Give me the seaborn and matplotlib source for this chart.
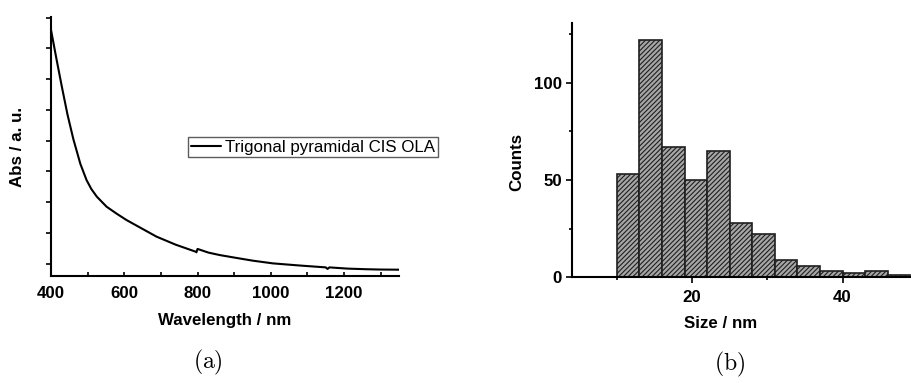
import matplotlib
matplotlib.use("Agg")
import matplotlib.pyplot as plt
from matplotlib.ticker import MultipleLocator, NullFormatter
import numpy as np
import pandas as pd
import seaborn as sns

# UV-vis-NIR absorption spectrum
wavelength = [400, 415, 430, 445, 461, 480, 497, 510, 525, 552, 580, 606, 650,
              688, 740, 795, 797, 800, 830, 861, 900, 950, 1006, 1080, 1150,
              1155, 1160, 1210, 1261, 1300, 1350]
absorbance = [0.860, 0.765, 0.673, 0.585, 0.505, 0.425, 0.372, 0.343, 0.318,
              0.285, 0.262, 0.242, 0.213, 0.188, 0.162, 0.139, 0.137, 0.148,
              0.136, 0.128, 0.120, 0.110, 0.101, 0.094, 0.088, 0.083, 0.088,
              0.084, 0.082, 0.081, 0.0805]
series_name = "Trigonal pyramidal CIS OLA"

# Particle size histogram (3 nm bins)
bin_edges = [10, 13, 16, 19, 22, 25, 28, 31, 34, 37, 40, 43, 46, 49]
counts = [53, 122, 67, 50, 65, 28, 22, 9, 6, 3, 2, 3, 1]

sns.set_theme(style="ticks")
plt.rcParams["font.family"] = ["Liberation Sans", "DejaVu Sans"]
plt.rcParams["mathtext.fontset"] = "cm"
plt.rcParams["hatch.linewidth"] = 0.8
plt.rcParams["hatch.color"] = "#1a1a1a"
for key in ["text.color", "axes.labelcolor", "xtick.color", "ytick.color",
            "axes.edgecolor"]:
    plt.rcParams[key] = "black"

W, H = 911, 383
fig = plt.figure(figsize=(W / 100, H / 100), dpi=100)


def px_axes(left, top, right, bottom):
    return fig.add_axes([left / W, 1 - bottom / H, (right - left) / W, (bottom - top) / H])


FS = 12.2
SPINE = 1.5

# ---------------- (a) absorption spectrum ----------------
ax1 = px_axes(51, 17, 399, 276)
spec = pd.DataFrame({"Wavelength": wavelength, "Abs": absorbance})
sns.lineplot(data=spec, x="Wavelength", y="Abs", ax=ax1, color="black",
             linewidth=1.5, label=series_name, estimator=None)
ax1.set_xlim(400, 1350)
ax1.set_ylim(0.06, 0.902)
ax1.xaxis.set_major_locator(MultipleLocator(200))
ax1.xaxis.set_minor_locator(MultipleLocator(100))
ax1.yaxis.set_major_locator(MultipleLocator(0.2))
ax1.yaxis.set_minor_locator(MultipleLocator(0.1))
ax1.yaxis.set_major_formatter(NullFormatter())
ax1.tick_params(axis="x", which="major", direction="in", length=3, width=1.2,
                pad=7, labelsize=FS)
ax1.tick_params(axis="x", which="minor", direction="in", length=3, width=1.2)
ax1.tick_params(axis="y", which="both", direction="out", length=3.4, width=1.2)
for lab in ax1.get_xticklabels():
    lab.set_fontweight("bold")
ax1.set_xlabel("Wavelength / nm", fontsize=FS, fontweight="bold", labelpad=9)
ax1.set_ylabel("Abs / a. u.", fontsize=FS, fontweight="bold")
ax1.yaxis.set_label_coords(-33.5 / 348, 0.5)
ax1.yaxis.label.set_va("center")
for s in ["top", "right"]:
    ax1.spines[s].set_visible(False)
for s in ["left", "bottom"]:
    ax1.spines[s].set_linewidth(SPINE)

leg = ax1.legend(loc="upper left", bbox_to_anchor=(188 / W, 1 - 137 / H),
                 bbox_transform=fig.transFigure, frameon=True, fancybox=False,
                 borderaxespad=0, borderpad=0.15, handlelength=1.8,
                 handletextpad=0.25, prop={"size": FS})
leg.get_frame().set_edgecolor("#333333")
leg.get_frame().set_linewidth(1.0)
leg.get_frame().set_boxstyle("square", pad=0)

# ---------------- (b) size distribution ----------------
ax2 = px_axes(571.7, 23, 911, 277.3)
centers = [(a + b) / 2 for a, b in zip(bin_edges[:-1], bin_edges[1:])]
sizes = pd.DataFrame({"Size": centers, "Counts": counts})
sns.histplot(data=sizes, x="Size", weights="Counts", bins=bin_edges, ax=ax2,
             color="#a6a6a6", alpha=1, edgecolor="#1f1f1f", linewidth=1.2,
             hatch="///////")
ax2.set_xlim(4, 49.1)
ax2.set_ylim(0, 130.7)
ax2.xaxis.set_major_locator(MultipleLocator(20))
ax2.xaxis.set_minor_locator(MultipleLocator(10))
ax2.yaxis.set_major_locator(MultipleLocator(50))
ax2.yaxis.set_minor_locator(MultipleLocator(25))
ax2.tick_params(axis="both", which="major", direction="out", length=4, width=1.2,
                labelsize=FS, pad=3)
ax2.tick_params(axis="x", which="major", pad=5)
ax2.tick_params(axis="both", which="minor", direction="out", length=2.2, width=1.2)
for lab in ax2.get_xticklabels() + ax2.get_yticklabels():
    lab.set_fontweight("bold")
ax2.set_xlabel("Size / nm", fontsize=FS, fontweight="bold")
ax2.set_ylabel("Counts", fontsize=FS, fontweight="bold")
ax2.xaxis.set_label_coords((721 - 571.7) / 339.3, -(324 - 277.3) / 254.3)
ax2.yaxis.set_label_coords(-(571.7 - 516.5) / 339.3, (277.3 - 161.7) / 254.3)
ax2.xaxis.label.set_va("center")
ax2.yaxis.label.set_va("center")
for s in ["top", "right"]:
    ax2.spines[s].set_visible(False)
for s in ["left", "bottom"]:
    ax2.spines[s].set_linewidth(SPINE)

# Sub-figure captions
fig.text(208 / W, 1 - 362 / H, r"$\mathrm{(a)}$", ha="center", va="center", fontsize=17)
fig.text(730 / W, 1 - 364 / H, r"$\mathrm{(b)}$", ha="center", va="center", fontsize=17)

fig.savefig("out.png", dpi=100)
